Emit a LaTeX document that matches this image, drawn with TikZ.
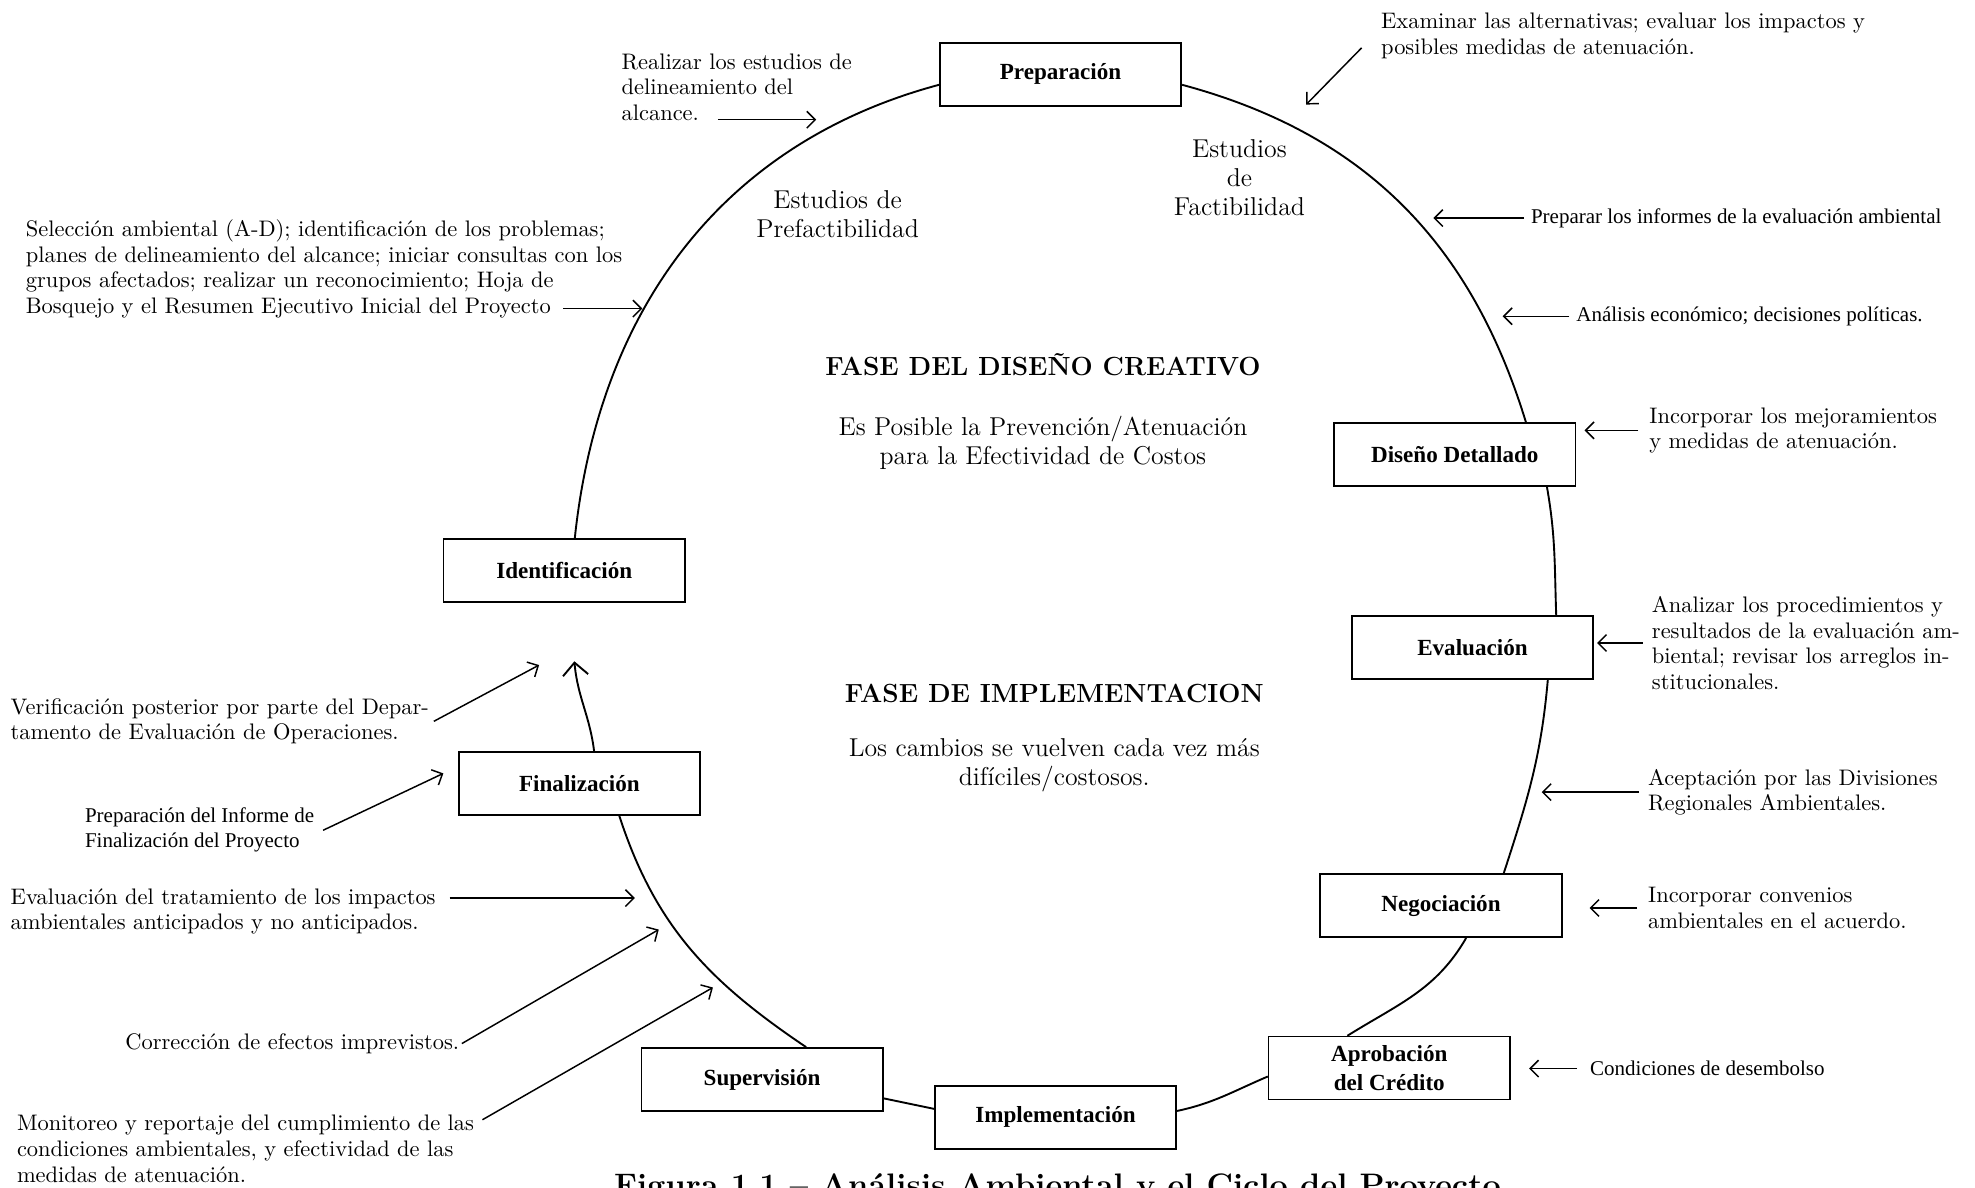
\documentclass[tikz,border=0pt]{standalone}
\usepackage{fontspec}
\newfontfamily\timesfont{Liberation Serif}
\usetikzlibrary{arrows.meta,positioning}

\begin{document}
\begin{tikzpicture}[x=0.6pt,y=-0.6pt,semithick,>={Straight Barb[length=4pt,width=8pt]}]
	  \tikzstyle{etapa}=[draw=black,thick,rectangle,minimum width=115pt,minimum height=30pt,align=center,font=\timesfont\bfseries\fontsize{11}{14}\selectfont]
	  \tikzstyle{nota}=[inner sep=0pt,align=left,anchor=north west,font=\fontsize{10.7}{12.2}\selectfont]
	  \tikzstyle{notat}=[inner sep=0pt,align=left,anchor=north west,font=\timesfont\fontsize{10}{12}\selectfont]
	  \tikzstyle{fase}=[inner sep=0pt,align=center,anchor=north,font=\fontsize{12.3}{13.8}\selectfont]
	  \tikzstyle{titulo}=[inner sep=0pt,anchor=base,font=\bfseries\fontsize{12.5}{14}\selectfont]
	  \tikzstyle{ciclo}=[line width=0.9pt]
	  \tikzstyle{flecha}=[->,line width=0.7pt]

	  \useasboundingbox (0,0) rectangle (1568,943);

	  % etapas del ciclo
	  \node[etapa] (prep) at (842,59) {Preparación};
	  \node[etapa] (dis) at (1155,361) {Diseño Detallado};
	  \node[etapa] (eval) at (1169,514) {Evaluación};
	  \node[etapa] (neg) at (1144,719) {Negociación};
	  \node[etapa] (apr) at (1103,848) {Aprobación\\del Crédito};
	  \node[etapa] (impl) at (838,887) {Implementación};
	  \node[etapa] (sup) at (605,857) {Supervisión};
	  \node[etapa] (fin) at (460,622) {Finalización};
	  \node[etapa] (ident) at (448,453) {Identificación};
	  \coordinate (cierre) at (456,525);

	  \draw[ciclo] ([xshift=5pt]ident.north) to[out=84,in=195] ([yshift=-5pt]prep.west);
	  \draw[ciclo] ([yshift=-5pt]prep.east) to[out=-15,in=107] ([xshift=-24pt]dis.north east);
	  \draw[ciclo] ([xshift=-14pt]dis.south east) to[out=-80,in=92] ([xshift=-18pt]eval.north east);
	  \draw[ciclo] ([xshift=-22pt]eval.south east) to[out=-95,in=72] ([xshift=-28pt]neg.north east);
	  \draw[ciclo] ([xshift=12pt]neg.south) to[out=-120,in=32] ([xshift=-20pt]apr.north);
	  \draw[ciclo] ([yshift=-4pt]apr.west) to[out=203,in=12] ([yshift=3pt]impl.east);
	  \draw[ciclo] ([yshift=4pt]impl.west) -- ([yshift=-9pt]sup.east);
	  \draw[ciclo] ([xshift=21pt]sup.north) to[out=146,in=-72] ([xshift=19pt]fin.south);
	  \draw[ciclo,-{Straight Barb[length=6pt,width=12pt]}] ([xshift=7pt]fin.north) to[out=97,in=-85] (cierre);

	  % textos del centro
	  \node[fase] (tPre) at (665,151) {Estudios de\\Prefactibilidad};
	  \node[fase] (tFac) at (984,110) {Estudios\\de\\Factibilidad};
	  \node[titulo] (tCre) at (828,298) {FASE DEL DISEÑO CREATIVO};
	  \node[fase] (tPos) at (828,330) {Es Posible la Prevención/Atenuación\\para la Efectividad de Costos};
	  \node[titulo] (tImp) at (837,558) {FASE DE IMPLEMENTACION};
	  \node[fase] (tCam) at (837,586) {Los cambios se vuelven cada vez más\\difíciles/costosos.};

	  % notas de la derecha
	  \node[nota] (tExa) at (1096,10) {Examinar las alternativas; evaluar los impactos y\\posibles medidas de atenuación.};
	  \node[notat] (tInf) at (1215,165) {Preparar los informes de la evaluación ambiental};
	  \node[notat] (tEco) at (1251,243) {Análisis económico; decisiones políticas.};
	  \node[nota] (tMej) at (1309,323) {Incorporar los mejoramientos\\y medidas de atenuación.};
	  \node[nota] (tAna) at (1311,473) {Analizar los procedimientos y\\resultados de la evaluación am-\\biental; revisar los arreglos in-\\stitucionales.};
	  \node[nota] (tAce) at (1308,610) {Aceptación por las Divisiones\\Regionales Ambientales.};
	  \node[nota] (tCon) at (1308,704) {Incorporar convenios\\ambientales en el acuerdo.};
	  \node[notat] (tDes) at (1262,842) {Condiciones de desembolso};

	  \coordinate (exaA) at (1081,38);
	  \coordinate (exaB) at (1037,83);
	  \coordinate (infB) at (1138,176);
	  \coordinate (ecoB) at (1193,253);
	  \coordinate (mejB) at (1258,344);
	  \coordinate (anaB) at (1268,511);
	  \coordinate (aceB) at (1224,630);
	  \coordinate (conB) at (1262,723);
	  \coordinate (desB) at (1214,851);

	  \draw[flecha] (exaA) -- (exaB);
	  \draw[flecha] ([xshift=-3pt]tInf.west) -- (infB |- tInf.west);
	  \draw[flecha] ([xshift=-3pt]tEco.west) -- (ecoB |- tEco.west);
	  \draw[flecha] ([xshift=-5pt]tMej.west) -- (mejB |- tMej.west);
	  \draw[flecha] ([xshift=-4pt]tAna.west) -- (anaB |- tAna.west);
	  \draw[flecha] ([xshift=-4pt]tAce.west) -- (aceB |- tAce.west);
	  \draw[flecha] ([xshift=-5pt]tCon.west) -- (conB |- tCon.west);
	  \draw[flecha] ([xshift=-6pt]tDes.west) -- (desB |- tDes.west);

	  % notas de la izquierda
	  \node[nota] (tRea) at (493,42) {Realizar los estudios de\\delineamiento del\\alcance.};
	  \node[nota] (tSel) at (20,174) {Selección ambiental (A-D); identificación de los problemas;\\planes de delineamiento del alcance; iniciar consultas con los\\grupos afectados; realizar un reconocimiento; Hoja de\\Bosquejo y el Resumen Ejecutivo Inicial del Proyecto};
	  \node[nota] (tVer) at (8,554) {Verificación posterior por parte del Depar-\\tamento de Evaluación de Operaciones.};
	  \node[notat] (tFinI) at (67,641) {Preparación del Informe de\\Finalización del Proyecto};
	  \node[nota] (tEva) at (8,705) {Evaluación del tratamiento de los impactos\\ambientales anticipados y no anticipados.};
	  \node[nota,anchor=north east] (tCor) at (365,820) {Corrección de efectos imprevistos.};
	  \node[nota] (tMon) at (13,885) {Monitoreo y reportaje del cumplimiento de las\\condiciones ambientales, y efectividad de las\\medidas de atenuación.};

	  \coordinate (reaA) at (570,95);
	  \coordinate (reaB) at (648,95);
	  \coordinate (selA) at (447,245);
	  \coordinate (selB) at (510,245);
	  \coordinate (verB) at (428,528);
	  \coordinate (finB) at (352,614);
	  \coordinate (evaA) at (357,713);
	  \coordinate (evaB) at (504,713);
	  \coordinate (corB) at (523,738);
	  \coordinate (monA) at (383,889);
	  \coordinate (monB) at (566,784);

	  \draw[flecha] (reaA) -- (reaB);
	  \draw[flecha] (selA) -- (selB);
	  \draw[flecha] ([xshift=2pt]tVer.east) -- (verB);
	  \draw[flecha] ([xshift=4pt]tFinI.east) -- (finB);
	  \draw[flecha] (evaA) -- (evaB);
	  \draw[flecha] ([xshift=1pt]tCor.east) -- (corB);
	  \draw[flecha] (monA) -- (monB);

	  \node[inner sep=0pt,anchor=north west,font=\bfseries\fontsize{15.5}{17}\selectfont] (tFig) at (487,931) {Figura 1.1 -- Análisis Ambiental y el Ciclo del Proyecto};
	\end{tikzpicture}
\end{document}
